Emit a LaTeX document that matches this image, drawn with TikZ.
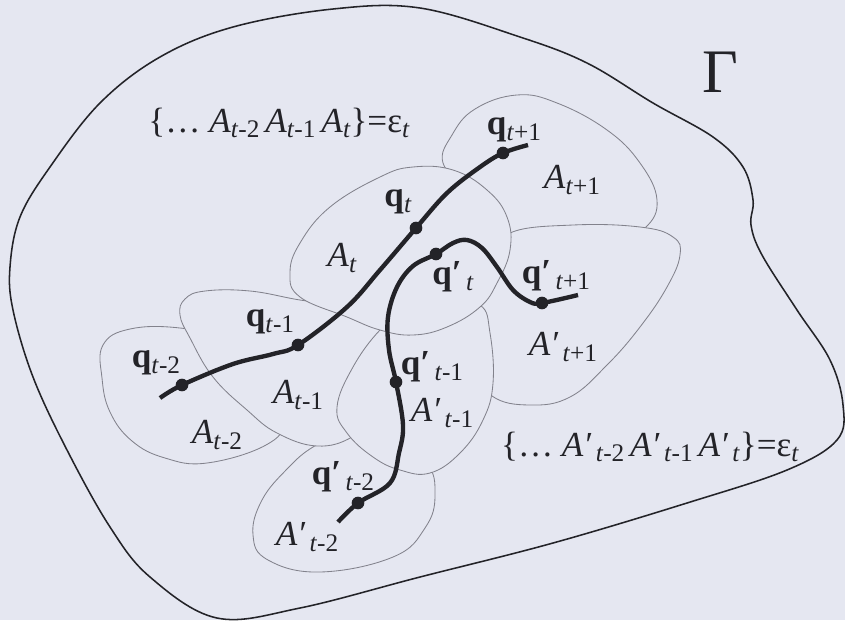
\documentclass[tikz,border=0pt]{standalone}
\usepackage{fontspec}
\setmainfont{Liberation Serif}
\definecolor{paper}{RGB}{229,231,241}
\definecolor{cellline}{RGB}{130,130,140}
\definecolor{ink}{RGB}{35,35,40}
\newcommand{\lsub}[1]{\raisebox{-.35ex}{\fontsize{18}{18}\selectfont#1}}
\newcommand{\At}[1]{\textit{A}\lsub{\textit{t}#1}}
\newcommand{\Ap}[1]{\textit{A′}\lsub{\,\textit{t}#1}}
\newcommand{\qt}[1]{\textbf{q}\lsub{\textit{t}#1}}
\newcommand{\qp}[1]{\textbf{q′}\lsub{\,\textit{t}#1}}
\tikzset{
  cell/.style={draw=cellline, line width=0.6pt, fill=paper},
  border/.style={draw=ink, line width=1.1pt},
  track/.style={draw=ink, line width=3.1pt},
  dot/.style={circle, fill=ink, inner sep=0pt, minimum size=9pt},
  lbl/.style={text=ink, inner sep=0pt, font=\fontsize{25}{28}\selectfont}
}
\begin{document}
\begin{tikzpicture}[x=0.025cm, y=-0.025cm]
\fill[paper] (0,0) rectangle (845,620);
\useasboundingbox (0,0) rectangle (845,620);
% outer domain
\draw[border] plot[smooth cycle, tension=0.6] coordinates {
  (160,57) (233,27) (333,9) (420,8) (520,37) (587,63) (653,103) (713,137)
  (743,167) (753,200) (751,225) (762,255) (797,310) (830,360) (843,405)
  (837,440) (787,470) (687,503) (553,543) (420,577) (300,608) (217,618)
  (150,577) (110,527) (67,450) (33,377) (13,310) (10,267) (20,217)
  (50,167) (100,103)};
% cells, back to front
\draw[cell] plot[smooth cycle, tension=0.7] coordinates {
  (103,345) (130,329) (180,328) (230,340) (272,380) (284,420) (266,445)
  (207,463) (165,458) (132,441) (110,412) (102,378)};
\draw[cell] plot[smooth cycle, tension=0.7] coordinates {
  (313,447) (288,468) (262,500) (253,535) (268,560) (320,572) (393,557)
  (425,528) (435,495) (425,462) (380,440) (340,436)};
\draw[cell] plot[smooth cycle, tension=0.7] coordinates {
  (300,300) (250,291) (205,291) (185,299) (180,315) (190,338) (213,377)
  (247,410) (277,433) (317,446) (352,437) (372,415) (378,380) (388,345)
  (385,320) (345,306)};
\draw[cell] plot[smooth cycle, tension=0.7] coordinates {
  (443,163) (452,135) (475,109) (517,95) (557,103) (607,130) (640,163)
  (657,200) (645,228) (610,245) (560,250) (515,245) (490,220) (468,190)};
\draw[cell] plot[smooth cycle, tension=0.7] coordinates {
  (510,233) (573,225) (640,227) (673,237) (680,255) (667,287) (640,327)
  (607,365) (570,397) (530,405) (492,396) (472,365) (472,320) (495,260)};
\draw[cell] plot[smooth cycle, tension=0.7] coordinates {
  (380,330) (353,367) (337,407) (347,433) (373,457) (400,470) (430,473)
  (460,453) (483,420) (493,383) (490,333) (480,305) (445,300) (405,312)};
\draw[cell] plot[smooth cycle, tension=0.7] coordinates {
  (290,273) (300,243) (330,207) (380,177) (413,167) (453,170) (487,190)
  (507,217) (510,250) (497,283) (480,307) (447,327) (413,335) (380,330)
  (347,317) (300,297)};
% trajectory points
\coordinate (qs) at (160,398);
\coordinate (qm2) at (182,385);
\coordinate (qm1) at (298,345);
\coordinate (q0) at (416,228);
\coordinate (qp1) at (503,153);
\coordinate (qe) at (528,145);
\coordinate (rs) at (338,522);
\coordinate (rm2) at (358,503);
\coordinate (rm1) at (396,382);
\coordinate (r0) at (436,254);
\coordinate (rp1) at (542,303);
\coordinate (re) at (578,295);
\draw[track] plot[smooth, tension=0.6] coordinates {
  (qs) (qm2) (233,364) (273,354) (qm1) (347,307) (380,270) (q0) (447,193)
  (480,167) (qp1) (qe)};
\draw[track] plot[smooth, tension=0.6] coordinates {
  (rs) (rm2) (390,483) (399,453) (403,425) (rm1) (389,350) (388,317)
  (397,287) (413,266) (r0) (453,243) (467,240) (482,248) (497,267)
  (513,290) (530,302) (rp1) (re)};
\foreach \p in {qm2,qm1,q0,qp1,rm2,rm1,r0,rp1}
  \node[dot] at (\p) {};
% labels
\path
  (279,123) node[lbl](setA){\{\ldots\ \At{-2}\,\At{-1}\,\At{}\}=ε\lsub{\textit{t}}}
  (650,447) node[lbl](setAp){\{\ldots\ \Ap{-2}\,\Ap{-1}\,\Ap{}\}=ε\lsub{\textit{t}}}
  (720,72) node[lbl, font=\fontsize{44}{48}\selectfont](gam){Γ}
  (514,130) node[lbl](lqp1){\qt{+1}}
  (572,180) node[lbl](lAp1){\At{+1}}
  (398,202) node[lbl](lq0){\qt{}}
  (342,258) node[lbl](lA0){\At{}}
  (453,277) node[lbl](lr0){\qp{}}
  (556,276) node[lbl](lrp1){\qp{+1}}
  (270,322) node[lbl](lqm1){\qt{-1}}
  (156,363) node[lbl](lqm2){\qt{-2}}
  (298,395) node[lbl](lAm1){\At{-1}}
  (217,435) node[lbl](lAm2){\At{-2}}
  (432,367) node[lbl](lrm1){\qp{-1}}
  (442,413) node[lbl](lBm1){\Ap{-1}}
  (563,347) node[lbl](lBp1){\Ap{+1}}
  (343,477) node[lbl](lrm2){\qp{-2}}
  (307,537) node[lbl](lBm2){\Ap{-2}};
\end{tikzpicture}
\end{document}
